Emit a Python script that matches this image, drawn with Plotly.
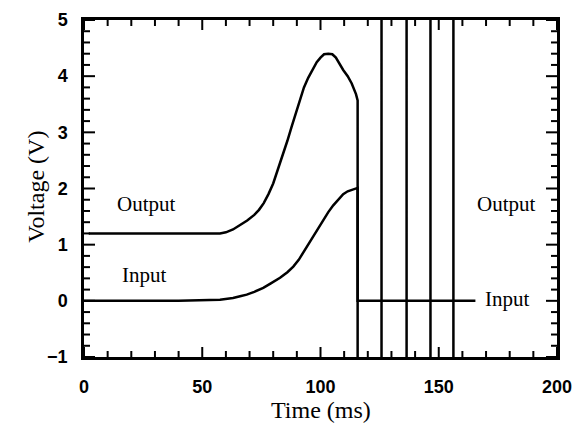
import plotly.graph_objects as go

# Output signal (V) vs time (ms)
out_t = [2, 20, 40, 57.5, 60, 63, 66, 69, 72, 74, 76, 78, 80, 82, 84.3, 86, 87.8, 89.5, 91.3,
         93, 94.8, 96.8, 98.4, 100, 101.5, 103.3, 105, 106.5, 108, 109.6, 111.5, 113.2, 115,
         115.7, 115.7, 125.8, 125.8, 136.4, 136.4, 146.5, 146.5, 156.2, 156.2]
out_v = [1.2, 1.2, 1.2, 1.2, 1.22, 1.27, 1.35, 1.43, 1.53, 1.62, 1.74, 1.90, 2.09, 2.33, 2.62,
         2.85, 3.10, 3.34, 3.60, 3.80, 3.97, 4.12, 4.25, 4.33, 4.39, 4.40, 4.39, 4.33, 4.22,
         4.11, 4.00, 3.87, 3.68, 3.57, -3, -3, 8, 8, -3, -3, 8, 8, -3]

# Input signal (V) vs time (ms)
in_t = [0, 20, 40, 57.5, 63, 66, 68.8, 72, 75.8, 79, 82.9, 86, 88.5, 90.8, 92.8, 95, 97, 99,
        101.2, 103.3, 105.4, 107.5, 109.6, 111.5, 113.2, 115, 115.7, 115.7, 130, 150, 165.5]
in_v = [0, 0, 0, 0.02, 0.05, 0.08, 0.11, 0.16, 0.23, 0.31, 0.41, 0.51, 0.61, 0.73, 0.87, 1.01,
        1.14, 1.29, 1.44, 1.58, 1.70, 1.81, 1.90, 1.95, 1.98, 2.0, 2.01, 0, 0, 0, 0]

labels = ["Output", "Input", "Output", "Input"]
label_t = [26.5, 25.5, 178.5, 179]
label_v = [1.72, 0.46, 1.72, 0.04]

# tick values
x_major = [0, 50, 100, 150, 200]
x_minor = [v for v in range(0, 201, 10) if v not in x_major]
y_major = [-1, 0, 1, 2, 3, 4, 5]
y_minor = [round(-1 + 0.2 * i, 1) for i in range(31)]
y_minor = [v for v in y_minor if v not in y_major]

x_range = [0, 200]
y_range = [-1, 5]

fig = go.Figure()
fig.add_trace(go.Scatter(x=out_t, y=out_v, mode="lines",
                         line=dict(color="black", width=2.5), showlegend=False))
fig.add_trace(go.Scatter(x=in_t, y=in_v, mode="lines",
                         line=dict(color="black", width=2.5), showlegend=False))

for txt, t, v in zip(labels, label_t, label_v):
    fig.add_annotation(x=t, y=v, text=txt, showarrow=False,
                       font=dict(family="Liberation Serif", size=21, color="black"))

titlefont = dict(family="Liberation Serif", size=24, color="black")
fig.add_annotation(xref="paper", yref="paper", x=0.5, y=-0.157, text="Time (ms)",
                   showarrow=False, xanchor="center", yanchor="middle", font=titlefont)
fig.add_annotation(xref="paper", yref="paper", x=-0.1015, y=0.505, text="Voltage (V)",
                   showarrow=False, xanchor="center", yanchor="middle", textangle=-90,
                   font=titlefont)

# inward tick marks on all four sides (pixel lengths, positioned by the axes' scales)
tick_line = dict(color="black", width=2)
for vals, length in ((x_major, 10), (x_minor, 6)):
    for v in vals:
        for anchor, sign in ((0, 1), (1, -1)):
            fig.add_shape(type="line", xref="x", yref="paper", x0=v, x1=v,
                          ysizemode="pixel", yanchor=anchor, y0=0, y1=sign * length,
                          line=tick_line, layer="above")
for vals, length in ((y_major, 11), (y_minor, 6)):
    for v in vals:
        for anchor, sign in ((0, 1), (1, -1)):
            fig.add_shape(type="line", xref="paper", yref="y", y0=v, y1=v,
                          xsizemode="pixel", xanchor=anchor, x0=0, x1=sign * length,
                          line=tick_line, layer="above")

tickfont = dict(family="Liberation Sans", size=18, color="black", weight="bold")

fig.update_layout(
    width=587, height=423, margin=dict(l=84, r=30, t=20, b=66),
    paper_bgcolor="white", plot_bgcolor="white",
    xaxis=dict(range=x_range, showgrid=False, zeroline=False, showline=True,
               linecolor="black", linewidth=2.5, mirror=True, ticks="",
               tickmode="array", tickvals=x_major, tickfont=tickfont,
               ticklabelstandoff=12, automargin=False),
    yaxis=dict(range=y_range, showgrid=False, zeroline=False, showline=True,
               linecolor="black", linewidth=2.5, mirror=True, ticks="",
               tickmode="array", tickvals=y_major, tickfont=tickfont,
               ticklabelstandoff=10, automargin=False),
)

fig.write_html("out.html")
